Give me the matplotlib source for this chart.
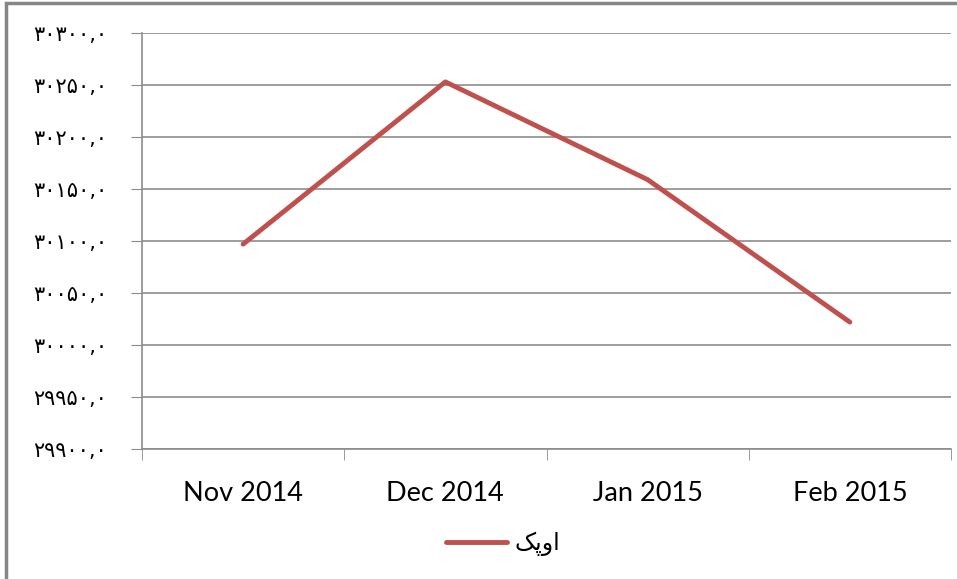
import numpy as np
import matplotlib
matplotlib.use('Agg')
from matplotlib import pyplot as plt
from matplotlib.patches import Rectangle

# data
months = ['Nov 2014', 'Dec 2014', 'Jan 2015', 'Feb 2015']
opec = [30097, 30253, 30159, 30022]
yticks = np.arange(29900, 30301, 50)
series_name = '\uFB8F\uFB58\u0648\u0627'  # "اوپک" in presentation forms, visual order

def persian(v):
    digits = '۰۱۲۳۴۵۶۷۸۹'
    s = '%d,0' % v
    return ''.join(digits[int(c)] if c.isdigit() else c for c in s)

fig = plt.figure(figsize=(9.57, 5.79), dpi=100)
ax = fig.add_axes([142/957, 1-449/579, (951-142)/957, (449-33)/579])

x = np.arange(len(months))
ax.plot(x, opec, color='#c0504d', lw=3.5, solid_capstyle='round', label=series_name)

ax.set_xlim(-0.5, len(months)-0.5)
ax.set_ylim(29900, 30300)
ax.set_yticks(yticks)
ax.set_yticklabels([persian(v) for v in yticks], family='DejaVu Sans', fontsize=15)
ax.set_xticks(x)
ax.set_xticklabels(months, family='Lato', fontsize=19.5)
ax.set_xticks(np.arange(-0.5, len(months), 1), minor=True)
ax.tick_params(axis='x', which='major', length=0, pad=23)
ax.tick_params(axis='x', which='minor', length=8, color='#8c8c8c', direction='out')
ax.tick_params(axis='y', length=8, color='#8c8c8c', direction='out', pad=17)
ax.grid(axis='y', color='#8c8c8c', lw=1.2)
ax.set_axisbelow(True)
for s in ['top', 'right']:
    ax.spines[s].set_visible(False)
for s in ['left', 'bottom']:
    ax.spines[s].set_color('#8c8c8c')
    ax.spines[s].set_linewidth(1.2)

leg = fig.legend(loc='center', bbox_to_anchor=(503/957, 1-544/579), frameon=False,
                 prop={'family': 'DejaVu Sans', 'size': 17}, handlelength=2.6,
                 handletextpad=0.3)

fig.patches.append(Rectangle((6/957, -0.1), 1.2, 1-3/579+0.1, transform=fig.transFigure,
                             fill=False, edgecolor='#868686', lw=2.5))

plt.savefig('out.png')
plt.close()
